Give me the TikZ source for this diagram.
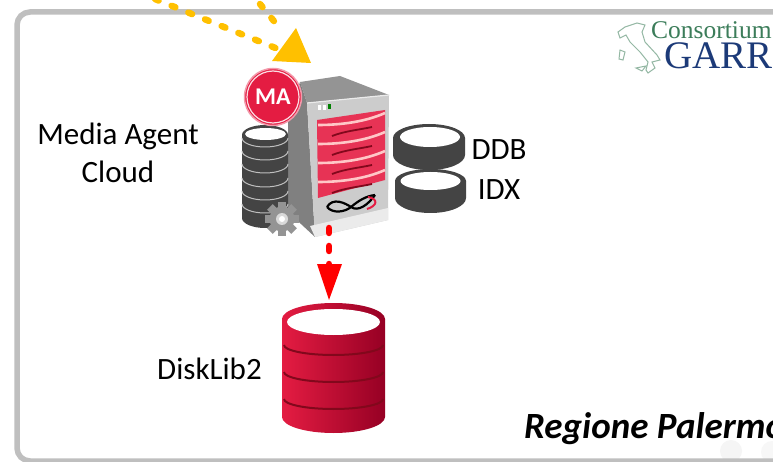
\documentclass[tikz,border=0pt]{standalone}
\usepackage{fontspec}
\setmainfont{Carlito}
\newfontfamily\logofont{Liberation Serif}
\usetikzlibrary{shapes.geometric}
\definecolor{framegray}{RGB}{191,191,191}
\definecolor{arrowyellow}{RGB}{255,192,0}
\definecolor{crimsonA}{RGB}{228,28,66}
\definecolor{crimsonB}{RGB}{150,0,36}
\definecolor{crimsonC}{RGB}{130,8,28}
\definecolor{drumdark}{RGB}{68,68,68}
\definecolor{garrgreen}{RGB}{60,125,90}
\definecolor{garrblue}{RGB}{28,58,120}
\tikzset{
  label text/.style={font=\fontsize{31}{31}\selectfont, text=black, inner sep=0pt},
  yellow dash/.style={draw=arrowyellow, line width=6.5pt, line cap=round, dash pattern=on 4pt off 14pt},
  red dash/.style={draw=red, line width=6.5pt, line cap=round, dash pattern=on 5pt off 13pt},
  disk top/.style={shape=ellipse, draw=none, fill=white, inner sep=0pt},
}
\begin{document}
\begin{tikzpicture}[x=1pt,y=-1pt]
\useasboundingbox (0,0) rectangle (773,462);
\clip (0,0) rectangle (773,462);
% frame
\fill[white] (0,0) rectangle (773,462);
\fill[black!4] (731,451) circle (11);
\fill[black!3] (772,452) circle (11);
\draw[framegray, line width=5.5pt, rounded corners=13pt] (17,12) rectangle (800,461);
% logo
\draw[garrgreen!55, line width=1pt, fill=white] (618,32) -- (625,27) -- (637,23) -- (645,25) -- (642,32) -- (645,42) -- (657,55) -- (660,60) -- (652,62) -- (655,68) -- (648,73) -- (646,70) -- (648,62) -- (640,52) -- (630,42) -- (626,35) -- (620,38) -- cycle;
\draw[garrgreen!55, line width=1pt] (620,50) -- (625,52) -- (623,60) -- (619,59) -- cycle;
\draw[garrgreen!55, line width=1pt] (636,68) -- (646,66) -- (642,71) -- cycle;
\node[anchor=base west, inner sep=0pt, text=garrgreen, font=\logofont\fontsize{25.5}{25.5}\selectfont] (consortium) at (651,39) {Consortium};
\node[anchor=base west, inner sep=0pt, text=garrblue, font=\logofont\fontsize{39}{39}\selectfont] (garr) at (664,69) {GARR};
% server
\fill[black!42] (300,82) -- (340,76) -- (389,95) -- (307,103) -- cycle;
\fill[black!50] (300,82) -- (307,103) -- (315,237) -- (288,212) -- (288,120) -- cycle;
\fill[black!20] (307,103) -- (389,95) -- (388,220) -- (315,237) -- cycle;
\fill[black!8] (310,226) -- (388,208) -- (388,220) -- (315,237) -- cycle;
\draw[black!8, line width=1.2pt] (307,103) -- (389,95);
\fill[white] (318,105) rectangle (321,110);
\fill[white] (323,105) rectangle (326,110);
\fill[green!50!black] (328,104) rectangle (331,109);
\fill[crimsonA!90!white] (317,120) -- (385,110) -- (385,180) -- (318,198) -- cycle;
\foreach \dy in {0,19,38,57} {
  \draw[crimsonC, line width=1.8pt] (332,136+\dy) .. controls (345,131+\dy) and (358,130+\dy) .. (372,127+\dy);
  \draw[red!22!white, line width=2.6pt] (318,125+\dy) .. controls (340,125+\dy) and (365,122+\dy) .. (385,113+\dy);
}
\draw[black, line width=2.2pt] (327,207) .. controls (333,197) and (345,203) .. (351,207) .. controls (358,212) and (368,205) .. (375,195);
\draw[black, line width=2.2pt] (327,207) .. controls (333,214) and (345,212) .. (351,207) .. controls (358,201) and (366,196) .. (375,195);
\draw[crimsonA, line width=2pt] (368,197) .. controls (379,199) and (377,206) .. (367,209);
% stack of disks
\fill[drumdark] (242,135) -- (242,218) arc[start angle=180, end angle=0, x radius=23, y radius=10] -- (288,135) -- cycle;
\foreach \ly in {138,151,164,178,191,204} {
  \draw[black!25, line width=1pt] (242,\ly) arc[start angle=180, end angle=0, x radius=23, y radius=9];
}
\fill[drumdark] (265,135) ellipse [x radius=23, y radius=10];
\node[disk top, minimum width=41pt, minimum height=12pt] (stacktop) at (265.5,134) {};
% gear
\foreach \a in {0,45,...,315} {
  \fill[black!42, rotate around={\a:(282,219)}] (278,202) rectangle (286,212);
}
\fill[black!42] (282,219) circle (12.5);
\fill[black!15] (282,219) circle (6);
\fill[white] (282,219) circle (3);
% MA badge
\node[shape=circle, fill=crimsonA, draw=crimsonA!45!white, line width=1.5pt, minimum size=57pt, inner sep=0pt] (ma) at (273,97) {};
\draw[white!85!crimsonA, line width=1.2pt] (ma.center) circle (26);
\node[text=white, inner sep=0pt, font=\bfseries\fontsize{24}{24}\selectfont] (matext) at (273,97) {MA};
% small disks
\fill[drumdark] (393,138) -- (393,155) arc[start angle=180, end angle=0, x radius=36, y radius=15] -- (465,138) -- cycle;
\fill[drumdark] (429,138) ellipse [x radius=36, y radius=14];
\node[disk top, minimum width=60pt, minimum height=20pt] (ddbdisk) at (430,137) {};
\fill[drumdark] (395,181) -- (395,198) arc[start angle=180, end angle=0, x radius=35.5, y radius=15] -- (466,181) -- cycle;
\fill[drumdark] (430.5,181) ellipse [x radius=35.5, y radius=12];
\node[disk top, minimum width=60pt, minimum height=18pt] (idxdisk) at (430.5,181) {};
% red disk
\shade[left color=crimsonA, right color=crimsonB] (282,319) -- (282,417) arc[start angle=180, end angle=0, x radius=51.5, y radius=16] -- (385,319) -- cycle;
\shade[left color=crimsonA, right color=crimsonB] (333.5,319) ellipse [x radius=51.5, y radius=16];
\foreach \ly in {345,372,399} {
  \draw[crimsonC, line width=2pt] (284,\ly) arc[start angle=180, end angle=0, x radius=49.5, y radius=10];
}
\node[disk top, minimum width=93pt, minimum height=26pt] (disklib) at (333.5,322) {};
% arrows
\coordinate (yellowa) at (155,-1);
\coordinate (yellowb) at (260,4);
\coordinate (yellowend) at (278,49);
\coordinate (yellowmid) at (282,31);
\path[yellow dash] (yellowa) -- (yellowend);
\path[yellow dash] (yellowb) -- (yellowmid);
\fill[arrowyellow] (296,28) -- (311,63) -- (272,61) -- cycle;
\coordinate (redstart) at (329,228);
\coordinate (redbase) at (329,266);
\coordinate (redtip) at (329,300);
\path[red dash] (redstart) -- (redbase);
\fill[red] (317,264) -- (342,264) -- (redtip) -- cycle;
% labels
\node[label text] (media) at (118,136) {Media Agent};
\node[label text] (cloud) at (118,172) {Cloud};
\node[label text] (ddb) at (499,150) {DDB};
\node[label text] (idx) at (499,189.5) {IDX};
\node[label text] (disk) at (209.5,369) {DiskLib2};
\node[anchor=west, inner sep=0pt, font=\bfseries\itshape\fontsize{37}{37}\selectfont] (regione) at (524,429) {Regione Palermo};
\end{tikzpicture}
\end{document}
